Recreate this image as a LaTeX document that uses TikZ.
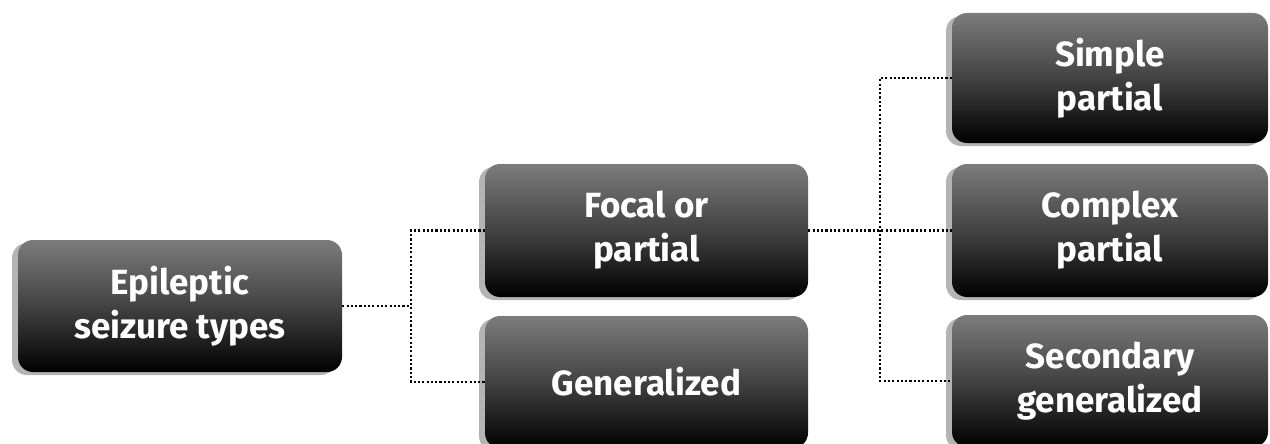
\documentclass[tikz,border=0pt]{standalone}
\usepackage{fontspec}
\setmainfont{Fira Sans}
\usetikzlibrary{shadows,calc}
\begin{document}
\begin{tikzpicture}[x=1pt,y=-1pt,
  box/.style={rounded corners=15pt, minimum height=132pt, inner sep=0pt,
    top color={rgb,255:red,124;green,124;blue,124}, bottom color=black,
    middle color={rgb,255:red,66;green,66;blue,66},
    general shadow={fill={rgb,255:red,180;green,180;blue,180}, shadow xshift=-6pt, shadow yshift=-3pt},
    text=white, align=center, font=\fontsize{35}{44}\selectfont\bfseries},
  dotline/.style={line width=2.1pt, dash pattern=on 2.1pt off 2.2pt, black}]
\useasboundingbox (0,0) rectangle (1270,444);
\node[box, minimum width=324pt] (e) at (180,306) {Epileptic\\seizure types};
\node[box, minimum width=323pt, minimum height=133pt] (f) at (646.5,230.5) {Focal or\\partial};
\node[box, minimum width=323pt] (g) at (646.5,382) {Generalized};
\node[box, minimum width=316pt, minimum height=130pt] (s) at (1110,78) {Simple\\partial};
\node[box, minimum width=316pt, minimum height=133pt] (c) at (1110,230.5) {Complex\\partial};
\node[box, minimum width=316pt] (sg) at (1110,381) {Secondary\\generalized};
\coordinate (j1) at (411,306);
\coordinate (j2) at (880,230);
\draw[dotline] (e.east) -- (j1);
\draw[dotline] (f.west) -| (j1) |- (g.west);
\draw[dotline] (f.east) -- (c.west);
\draw[dotline] (s.west) -| (j2) |- (sg.west);
\end{tikzpicture}
\end{document}
